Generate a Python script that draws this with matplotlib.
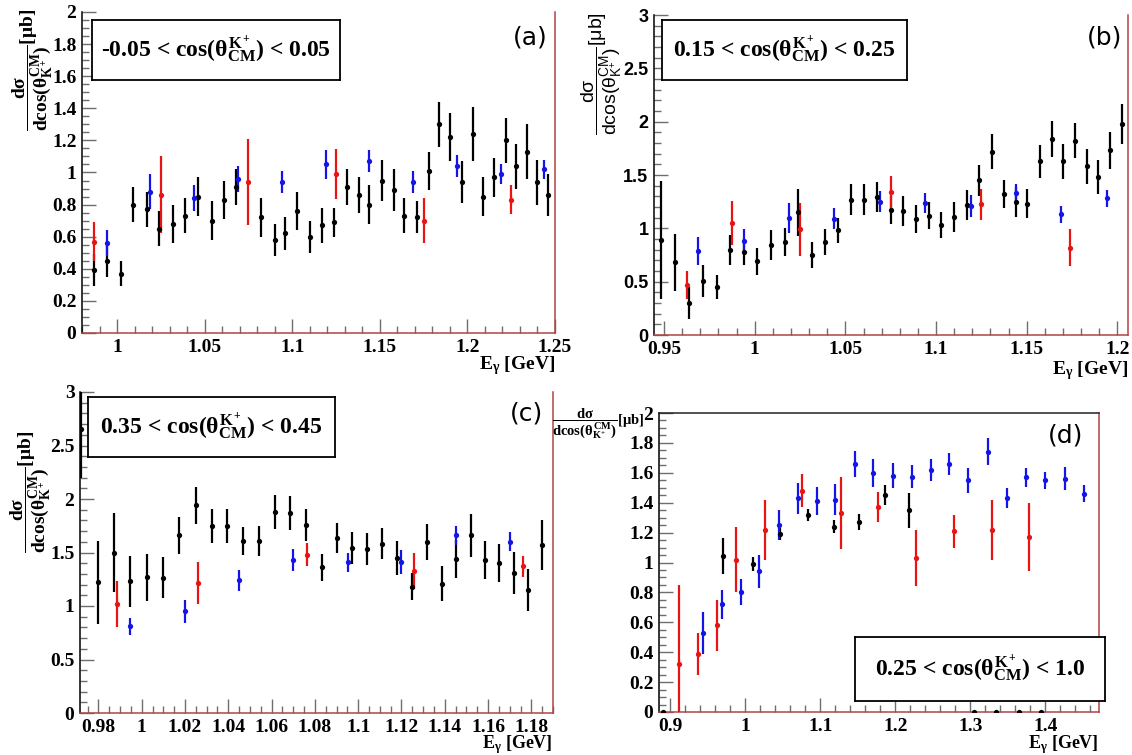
import matplotlib
matplotlib.use("Agg")
import matplotlib.pyplot as plt
from matplotlib.ticker import MultipleLocator, FuncFormatter

plt.rcParams["mathtext.fontset"] = "custom"
plt.rcParams["mathtext.rm"] = "Liberation Serif:bold"
plt.rcParams["mathtext.it"] = "Liberation Serif:bold"
plt.rcParams["mathtext.bf"] = "Liberation Serif:bold"
plt.rcParams["mathtext.sf"] = "Liberation Sans"

W, H = 1132, 755
SERIF = "Liberation Serif"
SANS = "Liberation Sans"
FRAME_RED = "#b04444"
TICK_GREY = "#6e6e6e"
COLORS = {"black": "black", "blue": "#1414e6", "red": "#e81414"}

# ---- panel (a): -0.05 < cos < 0.05 ----
a_black_e = [0.987, 0.994, 1.002, 1.009, 1.017, 1.024, 1.032, 1.039, 1.046, 1.054,
             1.061, 1.068, 1.082, 1.090, 1.096, 1.103, 1.110, 1.117, 1.124, 1.131,
             1.138, 1.144, 1.151, 1.158, 1.164, 1.171, 1.178, 1.184, 1.190, 1.197,
             1.203, 1.209, 1.215, 1.222, 1.228, 1.234, 1.240, 1.246]
a_black_y = [0.39, 0.45, 0.37, 0.80, 0.77, 0.65, 0.68, 0.73, 0.85, 0.70,
             0.83, 0.91, 0.72, 0.58, 0.62, 0.76, 0.60, 0.67, 0.69, 0.91,
             0.86, 0.80, 0.95, 0.89, 0.73, 0.72, 1.01, 1.30, 1.22, 0.94,
             1.24, 0.85, 0.97, 1.20, 1.04, 1.13, 0.94, 0.86]
a_black_err = [0.10, 0.10, 0.08, 0.11, 0.11, 0.11, 0.12, 0.11, 0.12, 0.12,
               0.12, 0.11, 0.12, 0.10, 0.10, 0.12, 0.10, 0.11, 0.09, 0.11,
               0.11, 0.12, 0.13, 0.13, 0.11, 0.10, 0.12, 0.14, 0.15, 0.13,
               0.17, 0.12, 0.12, 0.14, 0.14, 0.17, 0.14, 0.13]
a_blue_e = [0.994, 1.019, 1.044, 1.069, 1.094, 1.119, 1.144, 1.169, 1.194, 1.219, 1.244]
a_blue_y = [0.56, 0.88, 0.84, 0.96, 0.94, 1.05, 1.07, 0.94, 1.04, 0.99, 1.02]
a_blue_err = [0.08, 0.11, 0.08, 0.08, 0.07, 0.09, 0.07, 0.07, 0.07, 0.06, 0.06]
a_red_e = [0.987, 1.025, 1.075, 1.125, 1.175, 1.225]
a_red_y = [0.57, 0.86, 0.94, 0.99, 0.70, 0.83]
a_red_err = [0.12, 0.24, 0.27, 0.155, 0.14, 0.09]

# ---- panel (b): 0.15 < cos < 0.25 ----
b_black_e = [0.9485, 0.956, 0.9637, 0.9715, 0.979, 0.9864, 0.9943, 1.0015, 1.009, 1.0166,
             1.0237, 1.0315, 1.0388, 1.046, 1.0531, 1.0603, 1.0677, 1.0749, 1.0817, 1.0889,
             1.0959, 1.1028, 1.1097, 1.1168, 1.1235, 1.1306, 1.1373, 1.144, 1.1503, 1.1571,
             1.1639, 1.1701, 1.1768, 1.1831, 1.1895, 1.1959, 1.2024]
b_black_y = [0.89, 0.68, 0.30, 0.51, 0.45, 0.80, 0.78, 0.69, 0.84, 0.87,
             1.15, 0.75, 0.87, 0.98, 1.27, 1.27, 1.29, 1.17, 1.16, 1.09,
             1.12, 1.03, 1.11, 1.22, 1.45, 1.72, 1.32, 1.25, 1.23, 1.63,
             1.84, 1.63, 1.82, 1.58, 1.48, 1.73, 1.98]
b_black_err = [0.55, 0.27, 0.15, 0.15, 0.11, 0.14, 0.12, 0.125, 0.14, 0.13,
               0.22, 0.12, 0.12, 0.12, 0.145, 0.145, 0.14, 0.13, 0.14, 0.13,
               0.13, 0.125, 0.14, 0.14, 0.145, 0.16, 0.13, 0.14, 0.135, 0.155,
               0.17, 0.165, 0.165, 0.16, 0.16, 0.17, 0.19]
b_blue_e = [0.969, 0.994, 1.019, 1.044, 1.069, 1.094, 1.119, 1.144, 1.169, 1.194]
b_blue_y = [0.79, 0.88, 1.10, 1.09, 1.25, 1.24, 1.21, 1.33, 1.13, 1.28]
b_blue_err = [0.13, 0.11, 0.14, 0.10, 0.10, 0.095, 0.105, 0.09, 0.08, 0.08]
b_red_e = [0.9625, 0.9875, 1.025, 1.075, 1.125, 1.174]
b_red_y = [0.47, 1.05, 0.99, 1.34, 1.225, 0.82]
b_red_err = [0.13, 0.21, 0.245, 0.15, 0.145, 0.17]

# ---- panel (c): 0.35 < cos < 0.45 ----
c_black_e = [0.9718, 0.980, 0.987, 0.9947, 1.0025, 1.010, 1.0173, 1.0249, 1.0323, 1.0395,
             1.0469, 1.0543, 1.0617, 1.0686, 1.0758, 1.0831, 1.090, 1.0972, 1.1043, 1.1108,
             1.1179, 1.1249, 1.1316, 1.1388, 1.1451, 1.1521, 1.1587, 1.1651, 1.1718, 1.1784,
             1.1849]
c_black_y = [2.65, 1.22, 1.50, 1.23, 1.27, 1.265, 1.66, 1.94, 1.75, 1.75,
             1.61, 1.61, 1.88, 1.87, 1.76, 1.36, 1.64, 1.54, 1.53, 1.58,
             1.45, 1.18, 1.60, 1.21, 1.44, 1.66, 1.43, 1.40, 1.31, 1.15,
             1.57]
c_black_err = [0.45, 0.39, 0.37, 0.24, 0.22, 0.19, 0.17, 0.17, 0.16, 0.16,
               0.13, 0.14, 0.16, 0.16, 0.15, 0.13, 0.14, 0.15, 0.15, 0.145,
               0.16, 0.125, 0.17, 0.165, 0.18, 0.20, 0.18, 0.18, 0.195, 0.20,
               0.23]
c_blue_e = [0.9947, 1.0198, 1.0449, 1.0698, 1.0951, 1.120, 1.145, 1.1702]
c_blue_y = [0.81, 0.95, 1.24, 1.43, 1.41, 1.41, 1.66, 1.60]
c_blue_err = [0.08, 0.11, 0.10, 0.105, 0.09, 0.11, 0.09, 0.09]
c_red_e = [0.9884, 1.0258, 1.0762, 1.126, 1.1761]
c_red_y = [1.02, 1.215, 1.48, 1.33, 1.37]
c_red_err = [0.215, 0.20, 0.105, 0.17, 0.095]

# ---- panel (d): 0.25 < cos < 1.0 ----
d_black_e = [0.891, 0.9709, 1.010, 1.0464, 1.0833, 1.118, 1.1523, 1.1864, 1.218,
             1.305, 1.335, 1.365, 1.395]
d_black_y = [0.0, 1.045, 0.99, 1.19, 1.32, 1.24, 1.27, 1.45, 1.35,
             0.0, 0.0, 0.0, 0.0]
d_black_err = [0.0, 0.12, 0.047, 0.04, 0.041, 0.041, 0.053, 0.067, 0.116,
               0.0, 0.0, 0.0, 0.0]
d_blue_e = [0.9437, 0.9687, 0.994, 1.0189, 1.0451, 1.070, 1.0953, 1.1203, 1.146, 1.1709,
            1.197, 1.222, 1.2473, 1.2723, 1.2976, 1.3243, 1.3491, 1.3744, 1.3997, 1.4264,
            1.4517]
d_blue_y = [0.53, 0.72, 0.80, 0.94, 1.25, 1.43, 1.41, 1.42, 1.66, 1.60,
            1.58, 1.575, 1.62, 1.66, 1.55, 1.74, 1.43, 1.57, 1.55, 1.56,
            1.46]
d_blue_err = [0.14, 0.095, 0.087, 0.11, 0.10, 0.105, 0.094, 0.103, 0.089, 0.094,
              0.084, 0.078, 0.074, 0.073, 0.084, 0.091, 0.068, 0.063, 0.056, 0.078,
              0.057]
d_red_e = [0.9117, 0.937, 0.962, 0.9873, 1.026, 1.0763, 1.1273, 1.1776, 1.2277, 1.2789,
           1.3291, 1.3789]
d_red_y = [0.32, 0.39, 0.58, 1.02, 1.22, 1.48, 1.33, 1.37, 1.03, 1.21, 1.22, 1.17]
d_red_err = [0.53, 0.14, 0.17, 0.22, 0.20, 0.11, 0.24, 0.10, 0.19, 0.11, 0.20, 0.23]

BOX_TEXT = {
    "a": r"-0.05 < cos($\theta^{K^{+}}_{CM}$) < 0.05",
    "b": r"0.15 < cos($\theta^{K^{+}}_{CM}$) < 0.25",
    "c": r"0.35 < cos($\theta^{K^{+}}_{CM}$) < 0.45",
    "d": r"0.25 < cos($\theta^{K^{+}}_{CM}$) < 1.0",
}
YLABEL = r"$\dfrac{d\sigma}{dcos(\theta^{CM}_{K^{+}})}[\mu b]$"
YLABEL_SANS = r"$\mathsf{\dfrac{d\sigma}{dcos(\theta^{CM}_{K^{+}})}[\mu b]}$"
XLABEL = r"E$_{\gamma}$ [GeV]"

# pixel geometry of each frame: left, top, right, bottom
FRAMES = {
    "a": (82, 12, 555, 333),
    "b": (654, 15, 1128, 335),
    "c": (80, 392, 553, 713),
    "d": (659, 413, 1099, 712),
}


def make_ax(fig, key):
    l, t, r, b = FRAMES[key]
    return fig.add_axes([l / W, 1 - b / H, (r - l) / W, (b - t) / H])


def draw_series(ax, e, y, err, color):
    ax.errorbar(e, y, yerr=err, fmt="o", color=COLORS[color], ms=3.8, mew=0,
                elinewidth=1.6, capsize=1.4, capthick=1.2, zorder=3)


def style_ax(ax, xlim, ylim, xmaj, xmin, ymaj, ymin, yfont, top_line=False):
    ax.set_xlim(*xlim)
    ax.set_ylim(*ylim)
    ax.xaxis.set_major_locator(MultipleLocator(xmaj))
    ax.xaxis.set_minor_locator(MultipleLocator(xmin))
    ax.yaxis.set_major_locator(MultipleLocator(ymaj))
    ax.yaxis.set_minor_locator(MultipleLocator(ymin))
    fmt = FuncFormatter(lambda v, p: f"{v:g}")
    ax.xaxis.set_major_formatter(fmt)
    ax.yaxis.set_major_formatter(fmt)
    ax.tick_params(which="both", direction="in", color=TICK_GREY, width=1.0)
    ax.tick_params(which="major", length=10)
    ax.tick_params(which="minor", length=5)
    ax.tick_params(axis="x", pad=4)
    ax.tick_params(axis="y", pad=4)
    for lab in ax.get_xticklabels():
        lab.set_fontfamily(SERIF)
        lab.set_fontweight("bold")
        lab.set_fontsize(14)
    for lab in ax.get_yticklabels():
        lab.set_fontfamily(yfont)
        lab.set_fontweight("bold")
        lab.set_fontsize(14 if yfont == SERIF else 13)
    ax.spines["left"].set_color("black")
    ax.spines["bottom"].set_color(FRAME_RED)
    ax.spines["right"].set_color(FRAME_RED)
    ax.spines["top"].set_visible(top_line)
    ax.spines["top"].set_color("#222222")
    for s in ax.spines.values():
        s.set_linewidth(1.1)
    ax.set_facecolor("white")


def box_label(fig, text, x0, y0, x1, y1, fs=17):
    ax = fig.add_axes([x0 / W, 1 - y1 / H, (x1 - x0) / W, (y1 - y0) / H])
    ax.set_xticks([])
    ax.set_yticks([])
    for s in ax.spines.values():
        s.set_linewidth(1.3)
        s.set_color("black")
    ax.text(0.5, 0.5, text, ha="center", va="center", fontsize=fs,
            family=SERIF, weight="bold", transform=ax.transAxes)


def panel_tag(fig, text, x, y):
    fig.text(x / W, 1 - y / H, text, ha="center", va="center", fontsize=18,
             family="DejaVu Sans")


def x_title(fig, x, y, fs=14):
    fig.text(x / W, 1 - y / H, XLABEL, ha="right", va="center", fontsize=fs,
             family=SERIF, weight="bold")


fig = plt.figure(figsize=(W / 100, H / 100), dpi=100)

# (a)
ax = make_ax(fig, "a")
draw_series(ax, a_black_e, a_black_y, a_black_err, "black")
draw_series(ax, a_blue_e, a_blue_y, a_blue_err, "blue")
draw_series(ax, a_red_e, a_red_y, a_red_err, "red")
style_ax(ax, (0.98, 1.25), (0, 2), 0.05, 0.01, 0.2, 0.05, SERIF)
panel_tag(fig, "(a)", 530, 38)

# (b)
ax = make_ax(fig, "b")
draw_series(ax, b_black_e, b_black_y, b_black_err, "black")
draw_series(ax, b_blue_e, b_blue_y, b_blue_err, "blue")
draw_series(ax, b_red_e, b_red_y, b_red_err, "red")
style_ax(ax, (0.9445, 1.2058), (0, 3), 0.05, 0.01, 0.5, 0.1, SANS)
panel_tag(fig, "(b)", 1105, 38)

# (c)
ax = make_ax(fig, "c")
draw_series(ax, c_black_e, c_black_y, c_black_err, "black")
draw_series(ax, c_blue_e, c_blue_y, c_blue_err, "blue")
draw_series(ax, c_red_e, c_red_y, c_red_err, "red")
style_ax(ax, (0.9715, 1.19), (0, 3), 0.02, 0.005, 0.5, 0.1, SERIF)
panel_tag(fig, "(c)", 527, 413)

# (d)
ax = make_ax(fig, "d")
draw_series(ax, d_black_e, d_black_y, d_black_err, "black")
draw_series(ax, d_blue_e, d_blue_y, d_blue_err, "blue")
draw_series(ax, d_red_e, d_red_y, d_red_err, "red")
style_ax(ax, (0.885, 1.4717), (0, 2), 0.1, 0.02, 0.2, 0.05, SERIF, top_line=True)
panel_tag(fig, "(d)", 1066, 436)

# boxed cut labels
box_label(fig, BOX_TEXT["a"], 92, 20, 340, 80)
box_label(fig, BOX_TEXT["b"], 662, 20, 907, 80)
box_label(fig, BOX_TEXT["c"], 88, 397, 335, 457)
box_label(fig, BOX_TEXT["d"], 855, 637, 1105, 701)

# y titles
fig.text(32 / W, 1 - 70 / H, YLABEL, rotation=90, ha="center", va="center", fontsize=14)
fig.text(602 / W, 1 - 74 / H, YLABEL_SANS, rotation=90, ha="center", va="center", fontsize=14)
fig.text(30 / W, 1 - 492 / H, YLABEL, rotation=90, ha="center", va="center", fontsize=14)
fig.text(598 / W, 1 - 424 / H, YLABEL, ha="center", va="center", fontsize=10.5)

# x titles
x_title(fig, 555, 366)
x_title(fig, 1128, 371)
x_title(fig, 553, 745, 13)
x_title(fig, 1099, 745, 13)

fig.savefig("out.png", dpi=100)
